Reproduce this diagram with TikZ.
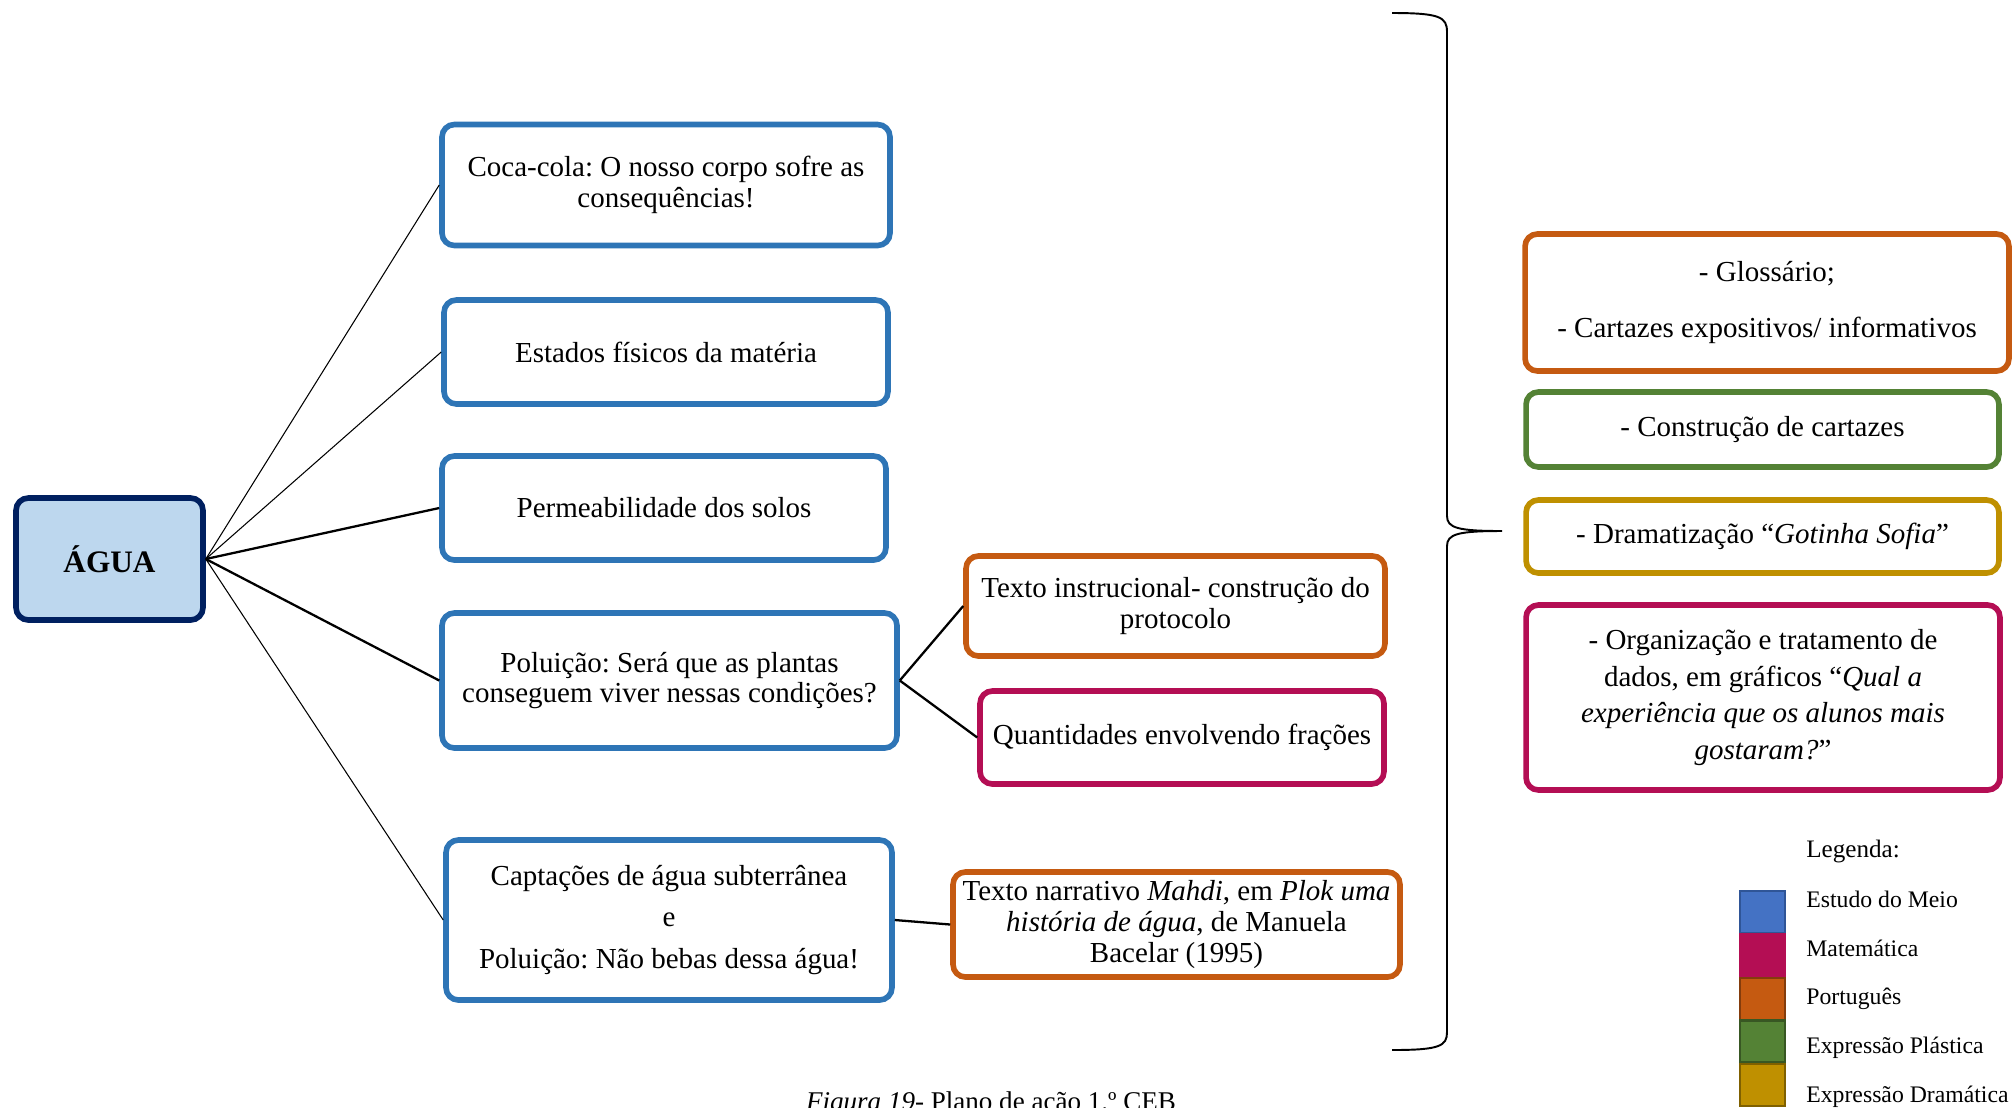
\documentclass[tikz,border=0pt]{standalone}
\usepackage{fontspec}
\setmainfont{Liberation Serif}
\frenchspacing
\definecolor{aguafill}{HTML}{BDD7EE}
\definecolor{aguaedge}{HTML}{002060}
\definecolor{meio}{HTML}{2E75B6}
\definecolor{port}{HTML}{C55A11}
\definecolor{mat}{HTML}{B40E54}
\definecolor{plast}{HTML}{548235}
\definecolor{dram}{HTML}{BF9000}
\definecolor{legmeio}{HTML}{4472C4}
\definecolor{legmeioedge}{HTML}{2F5597}
\definecolor{legportedge}{HTML}{843C0C}
\definecolor{legplastedge}{HTML}{385723}
\definecolor{legdramedge}{HTML}{7F6000}

\begin{document}
\begin{tikzpicture}[x=0.02cm,y=-0.02cm,
  box/.style={draw,line width=3.2pt,rounded corners=7pt,align=center,inner sep=0pt,
    font=\fontsize{16.5}{17.5}\selectfont},
  link/.style={line width=0.6pt},
  linkthick/.style={line width=1.3pt},
  swatch/.style={line width=1.2pt,minimum width=0.9cm,minimum height=0.84cm,inner sep=0pt},
  legtext/.style={anchor=base west,inner sep=0pt,font=\fontsize{13.5}{16}\selectfont}]
\useasboundingbox (0,0) rectangle (2013,1107);

\node[box,draw=aguaedge,fill=aguafill,minimum width=3.74cm,minimum height=2.44cm,
  font=\fontsize{17.8}{20}\selectfont\bfseries] (agua) at (109.5,559) {ÁGUA};

\node[box,draw=meio,minimum width=8.96cm,minimum height=2.42cm] (coca) at (666,185)
  {Coca-cola: O nosso corpo sofre as\\consequências!};
\node[box,draw=meio,minimum width=8.88cm,minimum height=2.08cm] (estados) at (666,352)
  {Estados físicos da matéria};
\node[box,draw=meio,minimum width=8.88cm,minimum height=2.08cm] (perme) at (664,508)
  {Permeabilidade dos solos};
\node[box,draw=meio,minimum width=9.10cm,minimum height=2.70cm] (polu) at (669.5,680.5)
  {Poluição: Será que as plantas\\conseguem viver nessas condições?};
\node[box,draw=meio,minimum width=8.92cm,minimum height=3.20cm] (capt) at (669,920)
  {Captações de água subterrânea\\[6pt]e\\[6pt]Poluição: Não bebas dessa água!};

\node[box,draw=port,minimum width=8.38cm,minimum height=2.00cm] (instr) at (1175.5,606)
  {Texto instrucional- construção do\\protocolo};
\node[box,draw=mat,minimum width=8.08cm,minimum height=1.86cm] (quant) at (1182,737.5)
  {Quantidades envolvendo frações};
\node[box,draw=port,minimum width=8.94cm,minimum height=2.10cm] (narr) at (1176.5,924.5)
  {Texto narrativo \textit{Mahdi}, em \textit{Plok uma}\\\textit{história de água}, de Manuela\\Bacelar (1995)};

\node[box,draw=port,minimum width=9.68cm,minimum height=2.74cm] (gloss) at (1767,302.5)
  {- Glossário;\\[14pt]- Cartazes expositivos/ informativos};
\node[box,draw=plast,minimum width=9.46cm,minimum height=1.50cm] (constr) at (1762.5,429.5)
  {- Construção de cartazes};
\node[box,draw=dram,minimum width=9.46cm,minimum height=1.46cm] (drama) at (1762.5,536.5)
  {- Dramatização “\textit{Gotinha Sofia}”};
\node[box,draw=mat,minimum width=9.48cm,minimum height=3.70cm] (organ) at (1763,697.5)
  {- Organização e tratamento de\\[3.3pt]dados, em gráficos “\textit{Qual a}\\[3.3pt]\textit{experiência que os alunos mais}\\[3.3pt]\textit{gostaram?}”};

\draw[link] (agua.east) -- (coca.west);
\draw[link] (agua.east) -- (estados.west);
\draw[linkthick] (agua.east) -- (perme.west);
\draw[linkthick] (agua.east) -- (polu.west);
\draw[link] (agua.east) -- (capt.west);
\draw[linkthick] (polu.east) -- (instr.west);
\draw[linkthick] (polu.east) -- (quant.west);
\draw[linkthick] (capt.east) -- (narr.west);

\draw[line width=1.1pt] (1392,13) .. controls (1440,13) and (1447,17) .. (1447,32)
  -- (1447,516) .. controls (1447,528) and (1458,531) .. (1502,531)
  .. controls (1458,531) and (1447,534) .. (1447,546)
  -- (1447,1032) .. controls (1447,1046) and (1440,1050) .. (1392,1050);

\node[legtext,font=\fontsize{14.3}{16}\selectfont] (legenda) at (1806,857) {Legenda:};
\foreach \f/\d/\ys/\yt/\lab [count=\i] in {
    legmeio/legmeioedge/912/907/Estudo do Meio,
    mat/mat/955.5/956/Matemática,
    port/legportedge/999/1004/Português,
    plast/legplastedge/1041.5/1053/Expressão Plástica,
    dram/legdramedge/1085/1102/Expressão Dramática} {
  \node[swatch,fill=\f,draw=\d] (sw\i) at (1762.5,\ys) {};
  \node[legtext] (lab\i) at (1806,\yt) {\lab};
}

\node[anchor=base,inner sep=0pt,font=\fontsize{15.4}{18}\selectfont] (caption) at (991,1110)
  {\textit{Figura 19}- Plano de ação 1.º CEB};
\end{tikzpicture}
\end{document}
